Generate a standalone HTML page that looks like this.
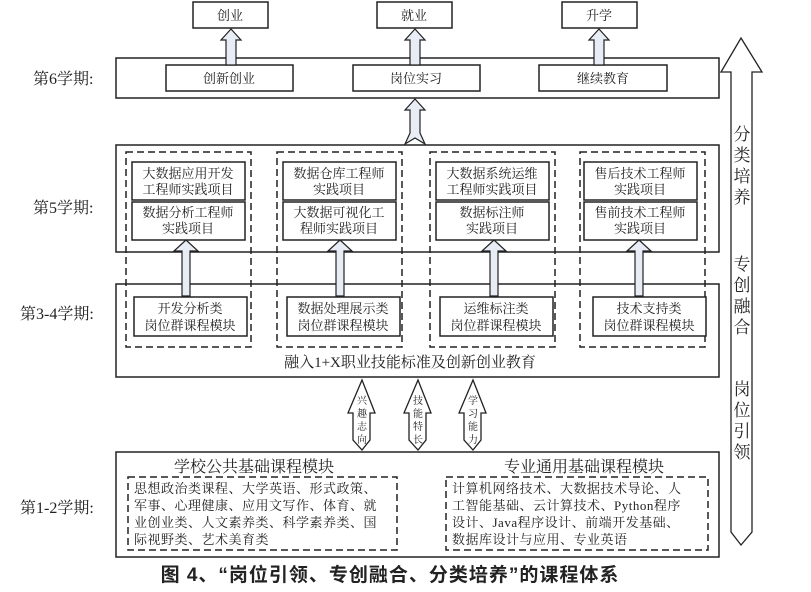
<!DOCTYPE html>
<html><head><meta charset="utf-8"><style>
body{margin:0;background:#fff}
svg text{font-family:"Liberation Serif","Noto Serif CJK SC","Noto Sans CJK SC",serif;fill:#222}
</style></head><body>
<svg width="811" height="587" viewBox="0 0 811 587" xmlns="http://www.w3.org/2000/svg">
<g fill="#fff" stroke="#222" stroke-width="1.5">
<rect x="193" y="2" width="75" height="26"/>
<rect x="377" y="2" width="75" height="26"/>
<rect x="562" y="2" width="75" height="26"/>
<rect x="116" y="58" width="603" height="40"/>
<rect x="116" y="145" width="603" height="107"/>
<rect x="116" y="284" width="603" height="93"/>
<rect x="116" y="452" width="603" height="105"/>
<rect x="166" y="65" width="127" height="26"/>
<rect x="353" y="65" width="127" height="26"/>
<rect x="539" y="65" width="128" height="26"/>
</g>
<g fill="#e8ecf4" stroke="#222" stroke-width="1.2">
<polygon points="231,29 241,40 236,40 236,65 226,65 226,40 221,40"/>
<polygon points="415,29 425,40 420,40 420,65 410,65 410,40 405,40"/>
<polygon points="599,29 609,40 604,40 604,65 594,65 594,40 589,40"/>
<polygon points="415,99 425,110 420,110 420,133 425,144 415,138 405,144 410,133 410,110 405,110"/>
<polygon points="186,240 198,251 190,251 190,296 182,296 182,251 174,251"/>
<polygon points="340,240 352,251 344,251 344,296 336,296 336,251 328,251"/>
<polygon points="494,240 506,251 498,251 498,296 490,296 490,251 482,251"/>
<polygon points="639,240 651,251 643,251 643,296 635,296 635,251 627,251"/>
</g>
<g fill="none" stroke="#222" stroke-width="1.5" stroke-dasharray="7,4">
<rect x="126" y="152" width="125" height="195"/>
<rect x="277" y="152" width="125" height="195"/>
<rect x="430" y="152" width="125" height="195"/>
<rect x="580" y="152" width="125" height="195"/>
<rect x="128" y="477" width="269" height="73"/>
<rect x="446" y="477" width="262" height="73"/>
</g>
<g fill="#fff" stroke="#222" stroke-width="1.5">
<rect x="132" y="162" width="113" height="38"/><rect x="132" y="202" width="113" height="38"/>
<rect x="283" y="162" width="113" height="38"/><rect x="283" y="202" width="113" height="38"/>
<rect x="436" y="162" width="113" height="38"/><rect x="436" y="202" width="113" height="38"/>
<rect x="584" y="162" width="113" height="38"/><rect x="584" y="202" width="113" height="38"/>
<rect x="134" y="297" width="113" height="39"/>
<rect x="287" y="297" width="113" height="39"/>
<rect x="440" y="297" width="113" height="39"/>
<rect x="593" y="297" width="113" height="39"/>
</g>
<g fill="#fff" stroke="#222" stroke-width="1.3">
<polygon points="362,380 375,413 370,413 370,440 362,450 353,440 353,413 348,413"/>
<polygon points="418,380 431,413 426,413 426,440 418,450 409,440 409,413 404,413"/>
<polygon points="473,380 486,413 481,413 481,440 473,450 464,440 464,413 459,413"/>
<polygon points="741,38 762,72 752,72 752,532 741,545 731,532 731,72 721,72"/>
</g>
<g font-size="13" text-anchor="middle">
<text x="230" y="20">创业</text><text x="414" y="20">就业</text><text x="599" y="20">升学</text>
<text x="229" y="83">创新创业</text><text x="416" y="83">岗位实习</text><text x="603" y="83">继续教育</text>
<text x="188" y="178">大数据应用开发</text><text x="188" y="194">工程师实践项目</text>
<text x="188" y="217">数据分析工程师</text><text x="188" y="233">实践项目</text>
<text x="339" y="178">数据仓库工程师</text><text x="339" y="194">实践项目</text>
<text x="339" y="217">大数据可视化工</text><text x="339" y="233">程师实践项目</text>
<text x="492" y="178">大数据系统运维</text><text x="492" y="194">工程师实践项目</text>
<text x="492" y="217">数据标注师</text><text x="492" y="233">实践项目</text>
<text x="640" y="178">售后技术工程师</text><text x="640" y="194">实践项目</text>
<text x="640" y="217">售前技术工程师</text><text x="640" y="233">实践项目</text>
<text x="190" y="313">开发分析类</text><text x="190" y="330">岗位群课程模块</text>
<text x="343" y="313">数据处理展示类</text><text x="343" y="330">岗位群课程模块</text>
<text x="496" y="313">运维标注类</text><text x="496" y="330">岗位群课程模块</text>
<text x="649" y="313">技术支持类</text><text x="649" y="330">岗位群课程模块</text>
<text x="410" y="367" font-size="15">融入1+X职业技能标准及创新创业教育</text>
</g>
<g font-size="10" text-anchor="middle">
<text x="362" y="404">兴</text><text x="362" y="417">趣</text><text x="362" y="430">志</text><text x="362" y="443">向</text>
<text x="418" y="404">技</text><text x="418" y="417">能</text><text x="418" y="430">特</text><text x="418" y="443">长</text>
<text x="473" y="404">学</text><text x="473" y="417">习</text><text x="473" y="430">能</text><text x="473" y="443">力</text>
</g>
<g font-size="16" text-anchor="middle">
<text x="254" y="472">学校公共基础课程模块</text>
<text x="584" y="472">专业通用基础课程模块</text>
</g>
<g font-size="13" letter-spacing="0.5">
<text x="134" y="493">思想政治类课程、大学英语、形式政策、</text>
<text x="134" y="510">军事、心理健康、应用文写作、体育、就</text>
<text x="134" y="527">业创业类、人文素养类、科学素养类、国</text>
<text x="134" y="544">际视野类、艺术美育类</text>
<text x="452" y="493">计算机网络技术、大数据技术导论、人</text>
<text x="452" y="510">工智能基础、云计算技术、Python程序</text>
<text x="452" y="527">设计、Java程序设计、前端开发基础、</text>
<text x="452" y="544">数据库设计与应用、专业英语</text>
</g>
<g font-size="16">
<text x="33" y="84">第6学期:</text>
<text x="33" y="213">第5学期:</text>
<text x="20" y="319">第3-4学期:</text>
<text x="20" y="513">第1-2学期:</text>
</g>
<g font-size="17" text-anchor="middle">
<text x="742" y="140">分</text><text x="742" y="161">类</text><text x="742" y="182">培</text><text x="742" y="203">养</text>
<text x="742" y="270">专</text><text x="742" y="291">创</text><text x="742" y="312">融</text><text x="742" y="333">合</text>
<text x="742" y="395">岗</text><text x="742" y="416">位</text><text x="742" y="437">引</text><text x="742" y="458">领</text>
</g>
<text x="390" y="581" font-size="19" font-weight="bold" text-anchor="middle" letter-spacing="1" style="font-family:'Liberation Sans','Noto Sans CJK SC',sans-serif">图 4、“岗位引领、专创融合、分类培养”的课程体系</text>
</svg>
</body></html>
